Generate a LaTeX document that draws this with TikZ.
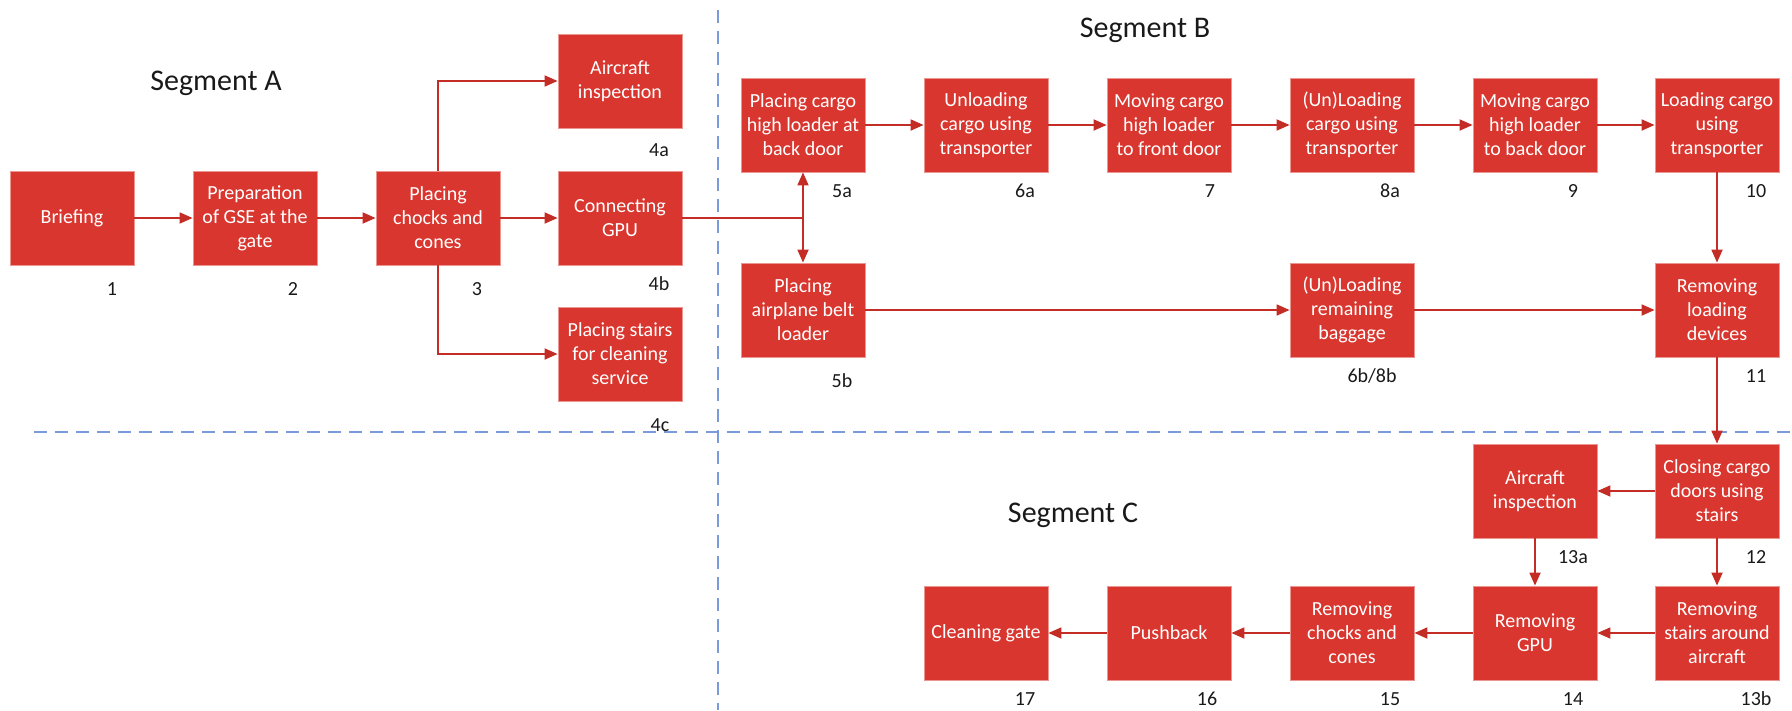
\documentclass[tikz,border=0pt]{standalone}
\usepackage{fontspec}
\setmainfont{Carlito}
\usetikzlibrary{arrows.meta}
\definecolor{boxred}{RGB}{216,54,46}
\definecolor{boxedge}{RGB}{236,150,145}
\definecolor{arrred}{RGB}{196,44,38}
\definecolor{dashblue}{RGB}{122,154,220}
\definecolor{labgray}{RGB}{25,25,25}
\tikzset{
  stepbox/.style={draw=boxedge, line width=0.8pt, fill=boxred, text=white,
    minimum width=124pt, minimum height=94pt, inner sep=0pt, align=center,
    font=\fontsize{20}{24}\selectfont},
  numlab/.style={anchor=base, text=labgray, inner sep=0pt, font=\fontsize{20}{24}\selectfont},
  segtitle/.style={anchor=base, text=labgray, inner sep=0pt, font=\fontsize{30}{36}\selectfont},
  arr/.style={draw=arrred, line width=1.8pt, -{Triangle[length=13pt,width=11pt]}},
  plainline/.style={draw=arrred, line width=1.8pt},
  divider/.style={draw=dashblue, line width=2pt, dash pattern=on 13pt off 8pt}
}
\begin{document}
\begin{tikzpicture}[x=1pt,y=-1pt]
\useasboundingbox (0,0) rectangle (1792,710);
% dividers
\coordinate (vtop) at (718,10);
\coordinate (vbot) at (718,710);
\coordinate (hl) at (34,432);
\coordinate (hr) at (1792,432);
\draw[divider] (vtop) -- (vbot);
\draw[divider] (hl) -- (hr);
% titles
\node[segtitle] (segA) at (216,90) {Segment A};
\node[segtitle] (segB) at (1145,37) {Segment B};
\node[segtitle] (segC) at (1073,522) {Segment C};
% segment A boxes
\node[stepbox] (n1) at (72,218) {Briefing};
\node[stepbox] (n2) at (255,218) {Preparation\\of GSE at the\\gate};
\node[stepbox] (n3) at (438,218) {Placing\\chocks and\\cones};
\node[stepbox] (n4a) at (620,81) {Aircraft\\inspection};
\node[stepbox] (n4b) at (620,218) {Connecting\\GPU};
\node[stepbox] (n4c) at (620,354) {Placing stairs\\for cleaning\\service};
% segment B boxes
\node[stepbox] (n5a) at (803,125) {Placing cargo\\high loader at\\back door};
\node[stepbox] (n5b) at (803,310) {Placing\\airplane belt\\loader};
\node[stepbox] (n6a) at (986,125) {Unloading\\cargo using\\transporter};
\node[stepbox] (n7) at (1169,125) {Moving cargo\\high loader\\to front door};
\node[stepbox] (n8a) at (1352,125) {(Un)Loading\\cargo using\\transporter};
\node[stepbox] (n9) at (1535,125) {Moving cargo\\high loader\\to back door};
\node[stepbox] (n10) at (1717,125) {Loading cargo\\using\\transporter};
\node[stepbox] (n6b) at (1352,310) {(Un)Loading\\remaining\\baggage};
\node[stepbox] (n11) at (1717,310) {Removing\\loading\\devices};
% segment C boxes
\node[stepbox] (n12) at (1717,491) {Closing cargo\\doors using\\stairs};
\node[stepbox] (n13a) at (1535,491) {Aircraft\\inspection};
\node[stepbox] (n13b) at (1717,633) {Removing\\stairs around\\aircraft};
\node[stepbox] (n14) at (1535,633) {Removing\\GPU};
\node[stepbox] (n15) at (1352,633) {Removing\\chocks and\\cones};
\node[stepbox] (n16) at (1169,633) {Pushback};
\node[stepbox] (n17) at (986,633) {Cleaning gate};
% number labels
\node[numlab] (l1) at (112,295) {1};
\node[numlab] (l2) at (293,295) {2};
\node[numlab] (l3) at (477,295) {3};
\node[numlab] (l4a) at (659,156) {4a};
\node[numlab] (l4b) at (659,290) {4b};
\node[numlab] (l4c) at (660,431) {4c};
\node[numlab] (l5a) at (842,197) {5a};
\node[numlab] (l5b) at (842,387) {5b};
\node[numlab] (l6a) at (1025,197) {6a};
\node[numlab] (l7) at (1210,197) {7};
\node[numlab] (l8a) at (1390,197) {8a};
\node[numlab] (l9) at (1573,197) {9};
\node[numlab] (l10) at (1756,197) {10};
\node[numlab] (l6b) at (1372,382) {6b/8b};
\node[numlab] (l11) at (1756,382) {11};
\node[numlab] (l13a) at (1573,563) {13a};
\node[numlab] (l12) at (1756,563) {12};
\node[numlab] (l17) at (1025,705) {17};
\node[numlab] (l16) at (1207,705) {16};
\node[numlab] (l15) at (1390,705) {15};
\node[numlab] (l14) at (1573,705) {14};
\node[numlab] (l13b) at (1756,705) {13b};
% connectors segment A
\draw[arr] (n1) -- (n2);
\draw[arr] (n2) -- (n3);
\draw[arr] (n3) -- (n4b);
\draw[arr] (n3.north) |- (n4a.west);
\draw[arr] (n3.south) |- (n4c.west);
% junction to 5a / 5b
\coordinate (jn) at (803,218);
\draw[plainline] (n4b.east) -- (jn);
\draw[arr] (jn) -- (n5a.south);
\draw[arr] (jn) -- (n5b.north);
% segment B
\draw[arr] (n5a) -- (n6a);
\draw[arr] (n6a) -- (n7);
\draw[arr] (n7) -- (n8a);
\draw[arr] (n8a) -- (n9);
\draw[arr] (n9) -- (n10);
\draw[arr] (n5b) -- (n6b);
\draw[arr] (n6b) -- (n11);
\draw[arr] (n10) -- (n11);
\draw[arr] (n11) -- (n12);
% segment C
\draw[arr] (n12) -- (n13a);
\draw[arr] (n12) -- (n13b);
\draw[arr] (n13a) -- (n14);
\draw[arr] (n13b) -- (n14);
\draw[arr] (n14) -- (n15);
\draw[arr] (n15) -- (n16);
\draw[arr] (n16) -- (n17);
\end{tikzpicture}
\end{document}
